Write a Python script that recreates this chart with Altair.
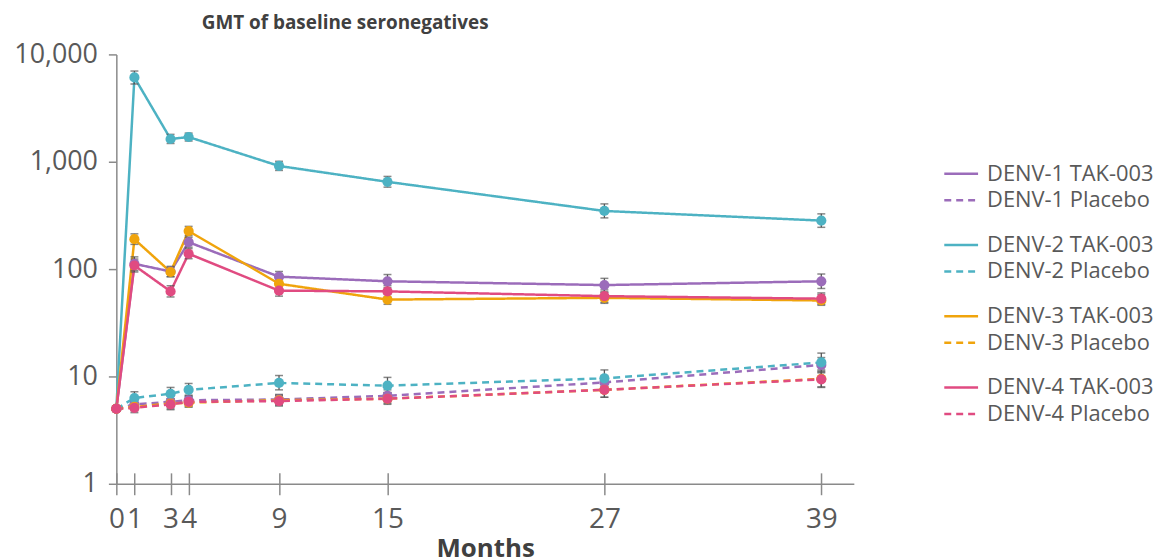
import altair as alt
import pandas as pd

# ---------------- data ----------------
months = [0, 1, 3, 4, 9, 15, 27, 39]

series_names = [
    "DENV-1 TAK-003", "DENV-1 Placebo",
    "DENV-2 TAK-003", "DENV-2 Placebo",
    "DENV-3 TAK-003", "DENV-3 Placebo",
    "DENV-4 TAK-003", "DENV-4 Placebo",
]

gmt_d1_tak = [5, 112, 95, 178, 85, 77, 71, 77]
gmt_d1_pla = [5, 5.5, 5.8, 6.0, 6.1, 6.6, 8.8, 12.8]
gmt_d2_tak = [5, 6100, 1630, 1700, 914, 650, 348, 283]
gmt_d2_pla = [5, 6.3, 6.9, 7.5, 8.7, 8.2, 9.6, 13.5]
gmt_d3_tak = [5, 190, 94, 226, 73, 52, 54, 51]
gmt_d3_pla = [5, 5.2, 5.6, 5.7, 6.0, 6.2, 7.5, 9.5]
gmt_d4_tak = [5, 108, 62, 139, 63, 62, 56, 53]
gmt_d4_pla = [5, 5.1, 5.5, 5.8, 5.9, 6.2, 7.5, 9.4]

lo_d1_tak = [None, 97, 85, 160, 76, 67, 61, 66]
hi_d1_tak = [None, 130, 106, 198, 95, 89, 82, 90]
lo_d1_pla = [None, 5.0, 5.2, 5.4, 5.5, 5.8, 7.6, 10.8]
hi_d1_pla = [None, 6.1, 6.5, 6.7, 6.8, 7.5, 10.2, 15.0]
lo_d2_tak = [None, 5300, 1480, 1560, 830, 580, 300, 245]
hi_d2_tak = [None, 7000, 1800, 1850, 1010, 730, 405, 327]
lo_d2_pla = [None, 5.6, 6.1, 6.6, 7.5, 7.0, 8.1, 11.5]
hi_d2_pla = [None, 7.2, 7.9, 8.6, 10.2, 9.8, 11.5, 16.5]
lo_d3_tak = [None, 170, 85, 205, 64, 47, 48, 46]
hi_d3_tak = [None, 213, 104, 250, 83, 58, 61, 58]
lo_d3_pla = [None, 4.8, 5.0, 5.2, 5.4, 5.6, 6.4, 8.0]
hi_d3_pla = [None, 5.9, 6.2, 6.4, 6.7, 7.1, 8.7, 11.2]
lo_d4_tak = [None, 94, 55, 125, 56, 55, 49, 47]
hi_d4_tak = [None, 124, 70, 155, 71, 70, 64, 60]
lo_d4_pla = [None, 4.6, 4.9, 5.2, 5.3, 5.5, 6.4, 7.9]
hi_d4_pla = [None, 5.7, 6.2, 6.5, 6.6, 7.0, 8.8, 11.0]

series_colors = ["#9b6cba", "#9b6cba", "#4db2c3", "#4db2c3",
                 "#f0a40c", "#f0a40c", "#e04b81", "#e04b81"]
series_dashes = [[1, 0], [7, 5], [1, 0], [7, 5], [1, 0], [7, 5], [1, 0], [7, 5]]

y_ticks = [1, 10, 100, 1000, 10000]

# ---------------- tables ----------------
gmts = [gmt_d1_tak, gmt_d1_pla, gmt_d2_tak, gmt_d2_pla,
        gmt_d3_tak, gmt_d3_pla, gmt_d4_tak, gmt_d4_pla]
los = [lo_d1_tak, lo_d1_pla, lo_d2_tak, lo_d2_pla,
       lo_d3_tak, lo_d3_pla, lo_d4_tak, lo_d4_pla]
his = [hi_d1_tak, hi_d1_pla, hi_d2_tak, hi_d2_pla,
       hi_d3_tak, hi_d3_pla, hi_d4_tak, hi_d4_pla]

rows = []
for si, name in enumerate(series_names):
    for mi, m in enumerate(months):
        rows.append({"series": name, "order": si, "month": m,
                     "gmt": gmts[si][mi], "lo": los[si][mi], "hi": his[si][mi]})
df = pd.DataFrame(rows)
legend_df = pd.DataFrame({"series": series_names, "idx": list(range(len(series_names)))})

W, H = 742, 432
FONT = "Open Sans"
AXIS_GREY = "#8a8a8a"
LABEL_GREY = "#595959"

color_scale = alt.Scale(domain=series_names, range=series_colors)
dash_scale = alt.Scale(domain=series_names, range=series_dashes)
x_scale = alt.Scale(domain=[0, 40.8], nice=False, zero=False)
y_scale = alt.Scale(type="log", domain=[1, 10000], nice=False)

x_bottom = alt.Axis(values=months, title="Months", grid=False, labelOverlap=False,
                    labelFlush=False, tickSize=11, tickWidth=1.5, tickColor=AXIS_GREY,
                    domainColor=AXIS_GREY, domainWidth=1.5, labelFont=FONT,
                    labelFontSize=28, labelColor=LABEL_GREY, labelPadding=11,
                    titleFont=FONT, titleFontSize=26, titleFontWeight="bold",
                    titleColor="#404040", titlePadding=2)
x_top = alt.Axis(orient="top", offset=-H, values=months, title=None, labels=False,
                 domain=False, grid=False, tickSize=11, tickWidth=1.5,
                 tickColor=AXIS_GREY)
y_axis = alt.Axis(values=y_ticks, format=",", title=None, grid=False,
                  labelFlush=False, labelOverlap=False, tickSize=8, tickWidth=1.5,
                  tickColor=AXIS_GREY, domainColor=AXIS_GREY, domainWidth=1.5,
                  labelFont=FONT, labelFontSize=27, labelColor=LABEL_GREY,
                  labelPadding=11)

base = alt.Chart(df)

lines = base.mark_line(strokeWidth=2.5).encode(
    x=alt.X("month:Q", scale=x_scale, axis=x_bottom),
    y=alt.Y("gmt:Q", scale=y_scale, axis=y_axis),
    color=alt.Color("series:N", scale=color_scale, legend=None),
    strokeDash=alt.StrokeDash("series:N", scale=dash_scale, legend=None),
    order=alt.Order("month:Q"),
)

err = base.transform_filter("isValid(datum.lo)")
err_rules = err.mark_rule(color="#555555", strokeWidth=1.3).encode(
    x=alt.X("month:Q", scale=x_scale, axis=None),
    y=alt.Y("lo:Q", scale=y_scale),
    y2="hi:Q",
)
caps_lo = err.mark_tick(color="#555555", orient="horizontal", size=8, thickness=1.5).encode(
    x=alt.X("month:Q", scale=x_scale, axis=None),
    y=alt.Y("lo:Q", scale=y_scale),
)
caps_hi = err.mark_tick(color="#555555", orient="horizontal", size=8, thickness=1.5).encode(
    x=alt.X("month:Q", scale=x_scale, axis=None),
    y=alt.Y("hi:Q", scale=y_scale),
)

points = base.mark_circle(size=105, opacity=1).encode(
    x=alt.X("month:Q", scale=x_scale, axis=x_top),
    y=alt.Y("gmt:Q", scale=y_scale),
    color=alt.Color("series:N", scale=color_scale, legend=None),
    order=alt.Order("order:Q"),
)

data_layer = alt.layer(lines, err_rules, caps_lo, caps_hi, points).resolve_axis(x="independent")

# ---------------- legend (grouped in pairs) ----------------
leg = alt.Chart(legend_df).transform_calculate(
    slot="120 + floor(datum.idx / 2) * 71.7 + (datum.idx % 2) * 26.7"
)
leg_y = alt.Y("slot:Q", scale=alt.Scale(domain=[0, H], reverse=True), axis=None)
leg_lines = leg.mark_rule(strokeWidth=2.5, clip=False).encode(
    x=alt.value(W + 91), x2=alt.value(W + 125), y=leg_y,
    color=alt.Color("series:N", scale=color_scale, legend=None),
    strokeDash=alt.StrokeDash("series:N", scale=dash_scale, legend=None),
)
leg_text = leg.mark_text(align="left", baseline="middle", font=FONT, fontSize=22,
                         color=LABEL_GREY, clip=False).encode(
    x=alt.value(W + 134), y=leg_y, text="series:N",
)
legend_layer = alt.layer(leg_lines, leg_text)

chart = alt.layer(data_layer, legend_layer).resolve_scale(y="independent").properties(
    width=W, height=H,
    title=alt.TitleParams("GMT of baseline seronegatives", font=FONT, fontSize=19,
                          fontWeight="bold", color="#404040", anchor="start",
                          frame="group", dx=86, offset=8),
    padding={"left": 5, "top": 4, "right": 0, "bottom": 0},
).configure(background="white").configure_view(stroke=None)

chart.save("out.html", embed_options={"renderer": "svg", "actions": False})
